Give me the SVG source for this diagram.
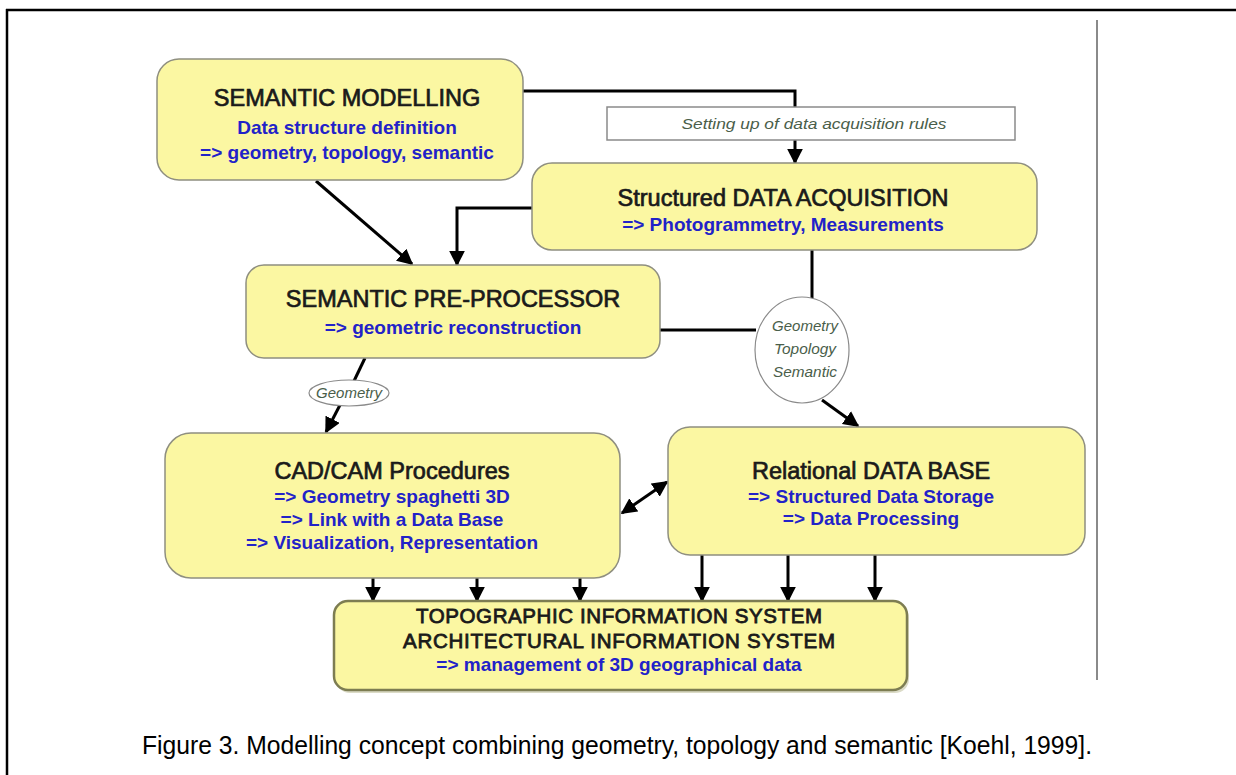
<svg xmlns="http://www.w3.org/2000/svg" width="1236" height="775" viewBox="0 0 1236 775">
  <defs>
    <marker id="arrow" viewBox="0 0 10 10" refX="9" refY="5" markerWidth="5.3" markerHeight="5.3" orient="auto-start-reverse" markerUnits="strokeWidth">
      <path d="M0,0 L10,5 L0,10 Z" fill="#000"/>
    </marker>
  </defs>
  <style>
    .box { fill: #fbf7a2; stroke: #8f8f80; stroke-width: 1.5; }
    .title { font-family: "Liberation Sans", Arial, sans-serif; font-size: 23.5px; fill: #1a1a1a; stroke: #1a1a1a; stroke-width: 0.7; text-anchor: middle; }
    .caps { font-family: "Liberation Sans", Arial, sans-serif; font-size: 20.5px; fill: #1a1a1a; stroke: #1a1a1a; stroke-width: 0.8; text-anchor: middle; }
    .sub { font-family: "Liberation Sans", Arial, sans-serif; font-weight: bold; font-size: 19px; fill: #2222c8; text-anchor: middle; }
    .label { font-family: "Liberation Sans", Arial, sans-serif; font-style: italic; font-size: 15px; fill: #4a5e4a; text-anchor: middle; }
    .line { fill: none; stroke: #000; stroke-width: 3; }
    .arr { fill: none; stroke: #000; stroke-width: 3; marker-end: url(#arrow); }
    .tag { fill: #fff; stroke: #8a8a8a; stroke-width: 1.2; }
  </style>

  <rect width="1236" height="775" fill="#fff"/>

  <!-- page frame -->
  <g id="frame">
    <line x1="6" y1="10" x2="1236" y2="10" stroke="#000" stroke-width="2.5"/>
    <line x1="7" y1="9" x2="7" y2="775" stroke="#000" stroke-width="2.5"/>
    <line x1="1097" y1="20" x2="1097" y2="680" stroke="#8a8a8a" stroke-width="2"/>
  </g>

  <!-- connectors -->
  <g id="connectors">
    <path class="line" d="M523,91 H795 V107"/>
    <path class="arr" d="M795,140 V163"/>
    <path class="arr" d="M532,208 H457 V265"/>
    <path class="arr" d="M316,181 L412,264"/>
    <path class="line" d="M660,330 H756"/>
    <path class="line" d="M812,250 V300"/>
    <path class="arr" d="M822,400 L858,426"/>
    <path class="line" d="M365,358 L354,381"/>
    <path class="arr" d="M340,405 L326,432"/>
    <path class="arr" d="M622,513 L667,482" marker-start="url(#arrow)"/>
    <path class="arr" d="M373,578 V601"/>
    <path class="arr" d="M477,578 V601"/>
    <path class="arr" d="M580,578 V601"/>
    <path class="arr" d="M702,555 V601"/>
    <path class="arr" d="M788,555 V601"/>
    <path class="arr" d="M875,555 V601"/>
  </g>

  <g id="semantic-modelling">
    <rect class="box" x="157" y="59" width="366" height="121" rx="22"/>
    <text class="title" x="347" y="106">SEMANTIC MODELLING</text>
    <text class="sub" x="347" y="134" font-size="20.5">Data structure definition</text>
    <text class="sub" x="347" y="159" font-size="20.5">=&gt; geometry, topology, semantic</text>
  </g>

  <g id="acquisition-rules">
    <rect x="607" y="107" width="408" height="33" fill="#fff" stroke="#8a8a8a" stroke-width="1.5"/>
    <text class="label" x="814" y="129" font-size="16" textLength="265" lengthAdjust="spacingAndGlyphs">Setting up of data acquisition rules</text>
  </g>

  <g id="data-acquisition">
    <rect class="box" x="532" y="163" width="505" height="87" rx="20"/>
    <text class="title" x="783" y="206">Structured DATA ACQUISITION</text>
    <text class="sub" x="783" y="231" font-size="18.5">=&gt; Photogrammetry, Measurements</text>
  </g>

  <g id="pre-processor">
    <rect class="box" x="246" y="265" width="414" height="93" rx="18"/>
    <text class="title" x="453" y="307">SEMANTIC PRE-PROCESSOR</text>
    <text class="sub" x="453" y="334" font-size="20">=&gt; geometric reconstruction</text>
  </g>

  <g id="tag-geometry-topology-semantic">
    <ellipse class="tag" cx="802" cy="350" rx="47" ry="53"/>
    <text class="label" x="805" y="331" textLength="66" lengthAdjust="spacingAndGlyphs">Geometry</text>
    <text class="label" x="805" y="354" textLength="62" lengthAdjust="spacingAndGlyphs">Topology</text>
    <text class="label" x="805" y="377" textLength="64" lengthAdjust="spacingAndGlyphs">Semantic</text>
  </g>

  <g id="tag-geometry">
    <ellipse class="tag" cx="349" cy="393" rx="40" ry="13"/>
    <text class="label" x="349" y="398" font-size="13">Geometry</text>
  </g>

  <g id="cad-cam">
    <rect class="box" x="165" y="433" width="455" height="145" rx="26"/>
    <text class="title" x="392" y="479" font-size="24.5">CAD/CAM Procedures</text>
    <text class="sub" x="392" y="503" font-size="18.5">=&gt; Geometry spaghetti 3D</text>
    <text class="sub" x="392" y="526" font-size="18.5">=&gt; Link with a Data Base</text>
    <text class="sub" x="392" y="549" font-size="18.5">=&gt; Visualization, Representation</text>
  </g>

  <g id="relational-database">
    <rect class="box" x="668" y="427" width="417" height="128" rx="22"/>
    <text class="title" x="871" y="479" font-size="24.5">Relational DATA BASE</text>
    <text class="sub" x="871" y="503" font-size="18.5">=&gt; Structured Data Storage</text>
    <text class="sub" x="871" y="525" font-size="18.5">=&gt; Data Processing</text>
  </g>

  <g id="information-system">
    <rect x="334" y="601" width="573" height="89" rx="14" fill="#b8b890" opacity="0.5" transform="translate(2,3)"/>
    <rect x="334" y="601" width="573" height="89" rx="14" fill="#fbf7a2" stroke="#7d7d52" stroke-width="2.5"/>
    <text class="caps" x="619" y="623" textLength="406" lengthAdjust="spacing">TOPOGRAPHIC INFORMATION SYSTEM</text>
    <text class="caps" x="619" y="648" textLength="432" lengthAdjust="spacing">ARCHITECTURAL INFORMATION SYSTEM</text>
    <text class="sub" x="619" y="671" font-size="17">=&gt; management of 3D geographical data</text>
  </g>

  <text id="caption" x="617" y="754" font-family="'Liberation Sans', Arial, sans-serif" font-size="25" fill="#000" text-anchor="middle" textLength="950" lengthAdjust="spacingAndGlyphs">Figure 3. Modelling concept combining geometry, topology and semantic [Koehl, 1999].</text>
</svg>
